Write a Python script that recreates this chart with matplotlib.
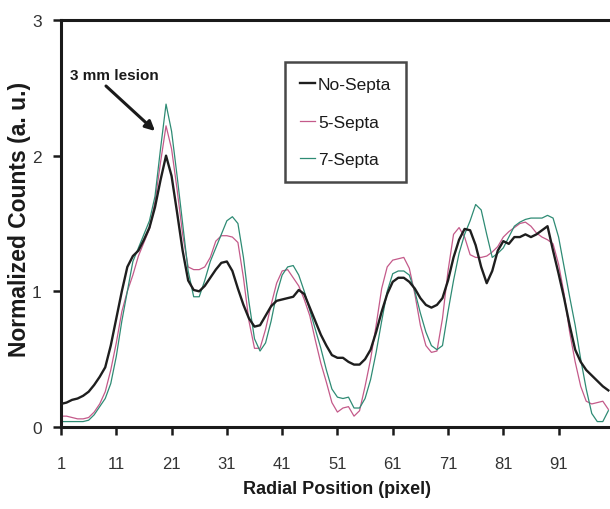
import matplotlib
matplotlib.use("Agg")
import matplotlib.pyplot as plt

plt.rcParams['font.family'] = ['Liberation Sans', 'DejaVu Sans']

# Radial profile across the phantom (pixel index 1..100)
radial_position = list(range(1, 101))

no_septa = [
    0.17, 0.18, 0.20, 0.21, 0.23, 0.26, 0.31, 0.37, 0.44, 0.60,
    0.80, 1.00, 1.18, 1.26, 1.30, 1.38, 1.47, 1.62, 1.82, 2.00,
    1.85, 1.58, 1.30, 1.08, 1.01, 1.00, 1.04, 1.10, 1.16, 1.21,
    1.22, 1.15, 1.02, 0.90, 0.80, 0.74, 0.75, 0.82, 0.89, 0.93,
    0.94, 0.95, 0.96, 1.01, 0.98, 0.88, 0.78, 0.68, 0.60, 0.53,
    0.51, 0.51, 0.48, 0.46, 0.46, 0.50, 0.57, 0.70, 0.85, 0.98,
    1.07, 1.10, 1.10, 1.07, 1.02, 0.95, 0.90, 0.88, 0.90, 0.95,
    1.08, 1.25, 1.38, 1.46, 1.45, 1.34, 1.18, 1.06, 1.15, 1.30,
    1.37, 1.35, 1.40, 1.40, 1.42, 1.40, 1.42, 1.45, 1.48, 1.30,
    1.13, 0.95, 0.75, 0.57, 0.48, 0.42, 0.38, 0.34, 0.30, 0.27,
]

five_septa = [
    0.08, 0.08, 0.07, 0.06, 0.06, 0.07, 0.11, 0.17, 0.26, 0.42,
    0.62, 0.85, 1.00, 1.12, 1.26, 1.36, 1.46, 1.66, 1.95, 2.22,
    2.05, 1.75, 1.42, 1.18, 1.16, 1.16, 1.18, 1.25, 1.37, 1.41,
    1.41, 1.40, 1.36, 1.10, 0.78, 0.58, 0.58, 0.72, 0.90, 1.06,
    1.15, 1.16, 1.10, 1.04, 0.94, 0.82, 0.64, 0.47, 0.33, 0.18,
    0.11, 0.14, 0.15, 0.08, 0.12, 0.30, 0.50, 0.75, 1.02, 1.18,
    1.23, 1.24, 1.25, 1.17, 0.98, 0.75, 0.60, 0.55, 0.56, 0.80,
    1.15, 1.42, 1.47, 1.40, 1.27, 1.25, 1.25, 1.26, 1.29, 1.33,
    1.40, 1.44, 1.47, 1.50, 1.51, 1.48, 1.43, 1.40, 1.38, 1.35,
    1.20, 0.98, 0.70, 0.48, 0.30, 0.19, 0.17, 0.18, 0.19, 0.13,
]

seven_septa = [
    0.04, 0.04, 0.04, 0.04, 0.04, 0.05, 0.09, 0.15, 0.21, 0.32,
    0.52, 0.78, 1.00, 1.22, 1.32, 1.42, 1.52, 1.70, 2.05, 2.38,
    2.18, 1.85, 1.50, 1.15, 0.96, 0.96, 1.08, 1.22, 1.32, 1.42,
    1.52, 1.55, 1.50, 1.25, 0.92, 0.65, 0.56, 0.62, 0.78, 0.98,
    1.12, 1.18, 1.19, 1.12, 1.00, 0.86, 0.72, 0.58, 0.42, 0.28,
    0.22, 0.21, 0.22, 0.14, 0.14, 0.21, 0.35, 0.55, 0.78, 1.00,
    1.13, 1.15, 1.15, 1.12, 1.00, 0.84, 0.70, 0.60, 0.57, 0.60,
    0.85, 1.08, 1.28, 1.42, 1.52, 1.64, 1.60, 1.42, 1.25, 1.28,
    1.32, 1.40, 1.48, 1.51, 1.53, 1.54, 1.54, 1.54, 1.56, 1.54,
    1.40, 1.18, 0.96, 0.75, 0.50, 0.28, 0.10, 0.04, 0.04, 0.12,
]

x_ticks = [1, 11, 21, 31, 41, 51, 61, 71, 81, 91]
y_ticks = [0, 1, 2, 3]

W, H = 610, 510
fig = plt.figure(figsize=(W / 100, H / 100), dpi=100)
ax = fig.add_axes([61 / W, (H - 428) / H, 1 - 61 / W, (428 - 21) / H])

ax.plot(radial_position, no_septa, color='#1e1e1e', lw=1.7, label='No-Septa', zorder=3)
ax.plot(radial_position, five_septa, color='#c45a8a', lw=0.9, label='5-Septa', zorder=2)
ax.plot(radial_position, seven_septa, color='#2e8b74', lw=0.9, label='7-Septa', zorder=2)

ax.set_xlim(1, 100.3)
ax.set_ylim(0, 3)
ax.set_xticks(x_ticks)
ax.set_yticks(y_ticks)
ax.tick_params(axis='x', direction='out', length=6, width=1.8, pad=15, labelsize=12,
               colors='#1a1a1a', labelcolor='#333333')
ax.tick_params(axis='y', direction='out', length=6, width=1.8, pad=8, labelsize=12.5,
               colors='#1a1a1a', labelcolor='#333333')

for side in ('left', 'bottom', 'top'):
    ax.spines[side].set_linewidth(2.2)
    ax.spines[side].set_color('#1a1a1a')
ax.spines['right'].set_visible(False)

ax.set_xlabel('Radial Position (pixel)', fontsize=13, fontweight='bold', color='#1a1a1a')
ax.xaxis.set_label_coords(337 / W, 1 - 490 / H, transform=fig.transFigure)
ax.xaxis.label.set_va('center')

ax.set_ylabel('Normalized Counts (a. u.)', fontsize=16.5, fontweight='bold', color='#1a1a1a')
ax.yaxis.set_label_coords(20 / W, 1 - 219 / H, transform=fig.transFigure)
ax.yaxis.label.set_va('center')

leg = ax.legend(loc='upper left', bbox_to_anchor=(285 / W, 1 - 63 / H),
                bbox_transform=fig.transFigure,
                frameon=True, fancybox=False, handlelength=0.85, handletextpad=0.2,
                fontsize=12.5, labelspacing=1.3, borderpad=0.85, borderaxespad=0)
leg.get_frame().set_edgecolor('#1a1a1a')
leg.get_frame().set_linewidth(1.8)
for t in leg.get_texts():
    t.set_color('#1a1a1a')

# Lesion callout
fig.text(70 / W, 1 - 80 / H, '3 mm lesion', fontsize=11, fontweight='bold',
         ha='left', va='baseline', color='#1a1a1a')
ax.annotate('', xy=(155, H - 132), xycoords='figure pixels',
            xytext=(106, H - 87), textcoords='figure pixels',
            arrowprops=dict(arrowstyle='-|>', color='#1a1a1a', lw=2.2,
                            mutation_scale=14, shrinkA=0, shrinkB=0))

fig.savefig('out.png', dpi=100)
